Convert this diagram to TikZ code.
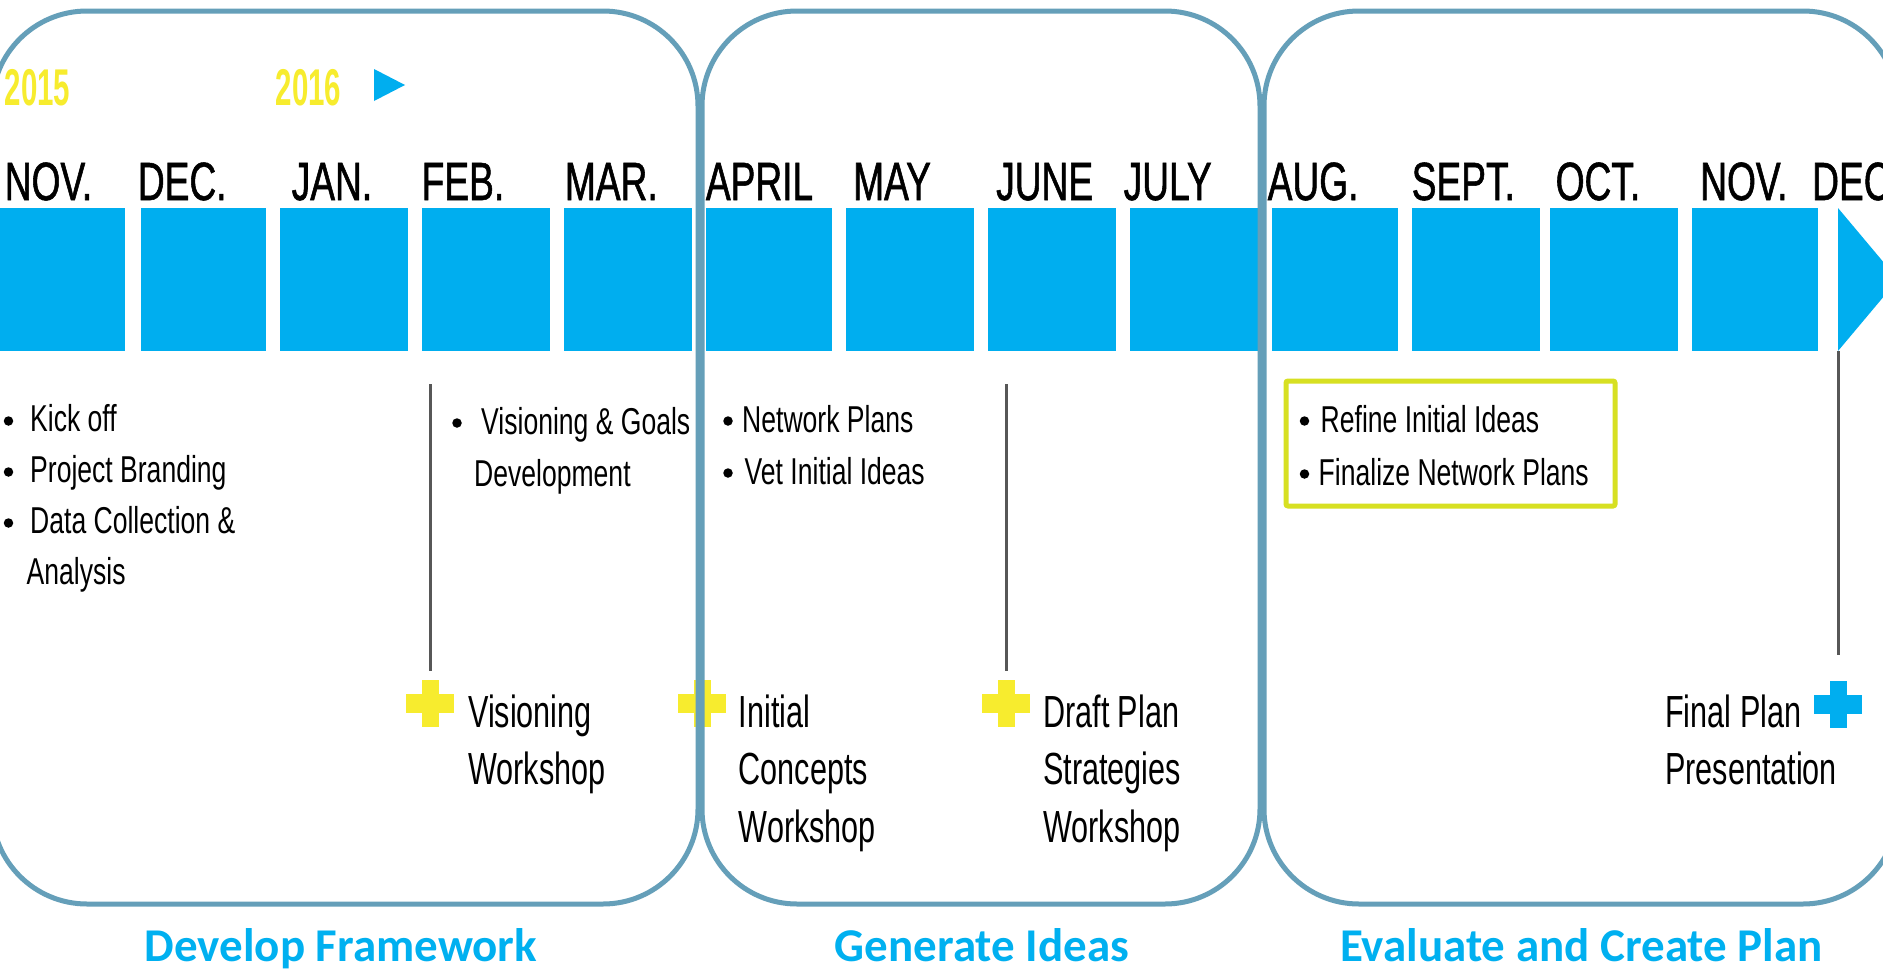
\documentclass[tikz,border=0pt]{standalone}
\usepackage{fontspec}
\setmainfont{Liberation Sans}
\newfontfamily\monthfont[FakeStretch=0.69,FakeBold=1]{Liberation Sans}
\newfontfamily\yearfont[FakeStretch=0.57]{Liberation Sans}
\newfontfamily\bodyfont[FakeStretch=0.71]{Liberation Sans}
\newfontfamily\eventfont[FakeStretch=0.68]{Liberation Sans}
\newfontfamily\titlefont{Carlito}

\definecolor{barblue}{HTML}{00AEEF}
\definecolor{panelline}{HTML}{659FB9}
\definecolor{markyellow}{HTML}{F7EC2E}
\definecolor{limeframe}{HTML}{D7E022}
\definecolor{titleblue}{HTML}{00B0F0}
\definecolor{stemgrey}{HTML}{575757}

\tikzset{
  monthlabel/.style={anchor=base west, inner sep=0pt, font=\monthfont\fontsize{53.8}{60}\selectfont},
  yearlabel/.style={anchor=base west, inner sep=0pt, text=markyellow, font=\yearfont\bfseries\fontsize{51.7}{60}\selectfont},
  bodytext/.style={anchor=base west, inner sep=0pt, font=\bodyfont\fontsize{37.4}{45}\selectfont},
  eventtext/.style={anchor=base west, inner sep=0pt, font=\eventfont\fontsize{45}{54}\selectfont},
  phasetitle/.style={anchor=base, inner sep=0pt, text=titleblue, font=\titlefont\bfseries\fontsize{47}{56}\selectfont},
  bulletdot/.style={circle, fill=black, minimum size=9.5pt, inner sep=0pt},
  panel/.style={draw=panelline, line width=5pt, rounded corners=95pt},
  stem/.style={draw=stemgrey, line width=3pt},
  plusmark/.pic={
    \fill (-24,-9.5) rectangle (24,9.5);
    \fill (-8.5,-23.5) rectangle (8.5,23.5);
  }
}

\begin{document}
\begin{tikzpicture}[x=1pt,y=-1pt]
\useasboundingbox (0,0) rectangle (1883,980);
\clip (0,0) rectangle (1883,980);
\fill[white] (0,0) rectangle (1883,980);

% years and start marker
\node[yearlabel] (y2015) at (4.6,105) {2015};
\node[yearlabel] (y2016) at (275.5,105) {2016};
\fill[barblue] (374,69) -- (405,85) -- (374,101) -- cycle;

% month bars
\foreach \l/\r in {-2/125, 140.5/265.5, 280/407.5, 421.5/550, 563.5/692,
                   706/831.5, 846/973.5, 988/1116, 1130/1258,
                   1271.5/1398, 1412/1539.5, 1550/1678, 1692/1818}
  \fill[barblue] (\l,208) rectangle (\r,351);
\fill[barblue] (1838,208) -- (1898,279.5) -- (1838,351) -- cycle;

% month labels
\foreach \x/\t [count=\i] in {4.6/NOV., 137.7/DEC., 291.5/JAN., 421.5/FEB., 564.7/MAR.,
                              705.7/APRIL, 853/MAY, 996/JUNE, 1123.5/JULY,
                              1267.5/AUG., 1411.5/SEPT., 1555.5/OCT., 1700/NOV., 1812/DEC.}
  \node[monthlabel] (month\i) at (\x,200) {\t};

% Develop Framework activities
\node[bulletdot] (bk) at (8.5,421) {};
\node[bodytext] (kick) at (30,431) {Kick off};
\node[bulletdot] (bp) at (8.5,472) {};
\node[bodytext] (brand) at (30,482) {Project Branding};
\node[bulletdot] (bd) at (8.5,523) {};
\node[bodytext] (data) at (30,533) {Data Collection \&};
\node[bodytext] (analysis) at (26.5,584) {Analysis};

\node[bulletdot] (bv) at (457,423) {};
\node[bodytext] (vision) at (481,434) {Visioning \& Goals};
\node[bodytext] (develop) at (474,486) {Development};

% Generate Ideas activities
\node[bulletdot] (bn) at (728,421) {};
\node[bodytext] (netplans) at (742,432) {Network Plans};
\node[bulletdot] (bvet) at (728,473) {};
\node[bodytext] (vet) at (744.5,484) {Vet Initial Ideas};

% Evaluate and Create Plan activities
\draw[limeframe, line width=5pt, rounded corners=2pt] (1286,381) rectangle (1615,506);
\node[bulletdot] (br) at (1304.5,421) {};
\node[bodytext] (refine) at (1320.5,432) {Refine Initial Ideas};
\node[bulletdot] (bf) at (1304.5,474) {};
\node[bodytext] (finalize) at (1318.5,485) {Finalize Network Plans};

% milestone stems
\coordinate (s1a) at (430,384);  \coordinate (s1b) at (430,671);
\coordinate (s2a) at (1006,384); \coordinate (s2b) at (1006,671);
\coordinate (s3a) at (1838,351); \coordinate (s3b) at (1838,655);
\draw[stem] (s1a) -- (s1b);
\draw[stem] (s2a) -- (s2b);
\draw[stem] (s3a) -- (s3b);

% milestone markers
\pic[fill=markyellow] at (430,703) {plusmark};
\pic[fill=markyellow] at (702,703) {plusmark};
\pic[fill=markyellow] at (1006,703) {plusmark};
\pic[fill=barblue] at (1838,704) {plusmark};

% milestone labels
\node[eventtext] (vw1) at (468,727) {Visioning};
\node[eventtext] (vw2) at (468,784) {Workshop};
\node[eventtext] (ic1) at (738.5,727) {Initial};
\node[eventtext] (ic2) at (738.5,784) {Concepts};
\node[eventtext] (ic3) at (738.5,842) {Workshop};
\node[eventtext] (dp1) at (1043,727) {Draft Plan};
\node[eventtext] (dp2) at (1043,784) {Strategies};
\node[eventtext] (dp3) at (1043,842) {Workshop};
\node[eventtext] (fp1) at (1665,727) {Final Plan};
\node[eventtext] (fp2) at (1665,784) {Presentation};

% phase panels
\draw[panel] (-8,11) rectangle (698,904);
\draw[panel] (702,11) rectangle (1260,904);
\draw[panel] (1264,11) rectangle (1898,904);

% phase titles
\node[phasetitle] (ph1) at (341,961) {Develop Framework};
\node[phasetitle] (ph2) at (982,961) {Generate Ideas};
\node[phasetitle] (ph3) at (1581.5,961) {Evaluate and Create Plan};
\end{tikzpicture}
\end{document}
